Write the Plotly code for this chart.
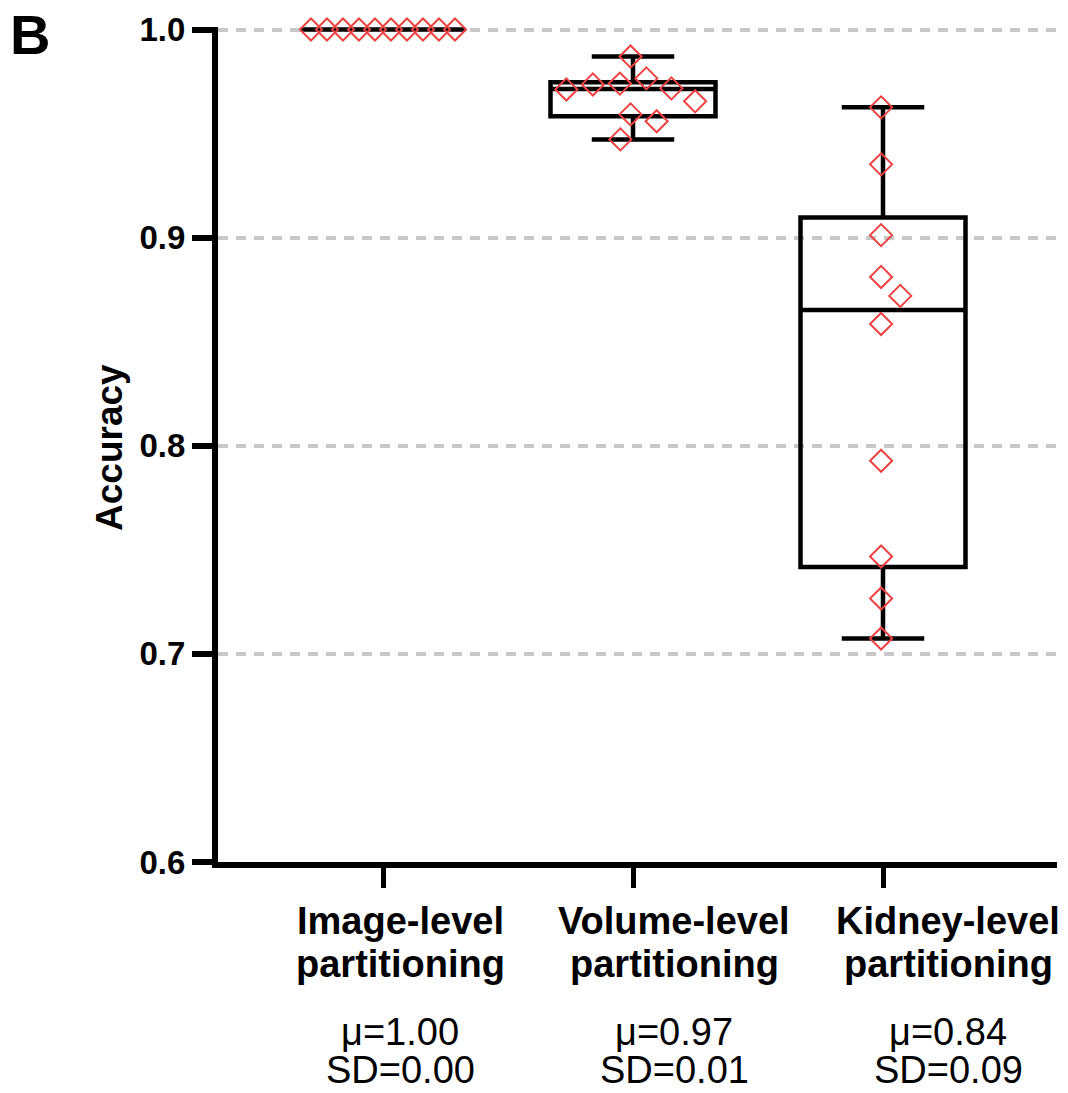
import math
import numpy as np
import plotly.graph_objects as go

# ---------------- data ----------------
categories = ["Image-level", "Volume-level", "Kidney-level"]
label_line1 = ["Image-level", "Volume-level", "Kidney-level"]
label_line2 = ["partitioning", "partitioning", "partitioning"]
mean_labels = ["μ=1.00", "μ=0.97", "μ=0.84"]
sd_labels = ["SD=0.00", "SD=0.01", "SD=0.09"]

image_level = [1.0, 1.0, 1.0, 1.0, 1.0, 1.0, 1.0, 1.0, 1.0, 1.0]
volume_level = [0.987, 0.9765, 0.9655, 0.9712, 0.9717, 0.9736, 0.974, 0.9559, 0.9592, 0.9472]
kidney_level = [0.9626, 0.9352, 0.9012, 0.8811, 0.872, 0.8585, 0.7928, 0.7468, 0.7266, 0.7074]

y_ticks = [0.6, 0.7, 0.8, 0.9, 1.0]
y_tick_labels = ["0.6", "0.7", "0.8", "0.9", "1.0"]

groups = [image_level, volume_level, kidney_level]

# ---------------- layout constants ----------------
W, H = 1068, 1093
M_L, M_R, M_B = 218, 11, 231
Y_MIN, Y_TOP = 0.6, 1.0012
PX_PER_Y = 2085.0
M_T = int(round(28 - (Y_TOP - 1.0) * PX_PER_Y))
X_RANGE = [-0.66, 2.696]
PX_PER_X = (W - M_L - M_R) / (X_RANGE[1] - X_RANGE[0])
PLOT_H = H - M_T - M_B
PLOT_BOTTOM = H - M_B
LABEL_CENTERS_PX = (400, 674, 948)   # text block centres below the axis

FONT = "Liberation Sans, Arial, sans-serif"
RED = "rgb(236,66,66)"


def swarm_offsets(values, diameter=27.0, max_half=72.0):
    """Simple beeswarm layout in pixel space, returned in x data units."""
    n = len(values)
    order = sorted(range(n), key=lambda i: -values[i])
    placed = []
    xs = [0.0] * n
    for i in order:
        y = values[i] * PX_PER_Y
        cands = [0.0]
        for px, py in placed:
            dy = abs(py - y)
            if dy < diameter:
                dx = math.sqrt(diameter ** 2 - dy ** 2)
                cands += [px + dx, px - dx]
        cands.sort(key=lambda c: (round(abs(c), 6), -c))
        chosen = cands[-1]
        for c in cands:
            if all((c - px) ** 2 + (y - py) ** 2 >= diameter ** 2 - 1e-6 for px, py in placed):
                chosen = c
                break
        xs[i] = chosen
        placed.append((chosen, y))
    shift = sum(xs) / n
    xs = [x - shift for x in xs]
    ext = max(abs(x) for x in xs)
    if ext > max_half:
        xs = [x * max_half / ext for x in xs]
    return [x / PX_PER_X for x in xs]


# box statistics (n+1 percentile method)
q1 = [float(np.percentile(g, 25, method="weibull")) for g in groups]
med = [float(np.median(g)) for g in groups]
q3 = [float(np.percentile(g, 75, method="weibull")) for g in groups]
lo = [float(min(g)) for g in groups]
hi = [float(max(g)) for g in groups]

fig = go.Figure()
fig.add_trace(go.Box(
    x=[0, 1, 2], q1=q1, median=med, q3=q3, lowerfence=lo, upperfence=hi,
    width=0.66, whiskerwidth=0.5,
    line=dict(color="black", width=4.5),
    fillcolor="rgba(0,0,0,0)",
    boxpoints=False, hoverinfo="skip",
))

for gi, g in enumerate(groups):
    offs = swarm_offsets(g)
    fig.add_trace(go.Scatter(
        x=[gi + o for o in offs], y=g, mode="markers",
        marker=dict(symbol="diamond-open", size=17, color=RED,
                    line=dict(width=2, color=RED)),
        cliponaxis=False, hoverinfo="skip",
    ))


def paper_y(py):
    return (PLOT_BOTTOM - py) / PLOT_H


def paper_x(px):
    return (px - M_L) / (W - M_L - M_R)


ann = []
for i in range(len(categories)):
    cx = paper_x(LABEL_CENTERS_PX[i])
    rows = [("<b>%s</b>" % label_line1[i], 921),
            ("<b>%s</b>" % label_line2[i], 964),
            (mean_labels[i], 1032),
            (sd_labels[i], 1070)]
    for txt, py in rows:
        ann.append(dict(x=cx, xref="paper", y=paper_y(py), yref="paper", text=txt,
                        showarrow=False, xanchor="center", yanchor="middle",
                        font=dict(family=FONT, size=38, color="black")))

ann.append(dict(x=paper_x(110), xref="paper", y=paper_y(446), yref="paper", text="<b>Accuracy</b>",
                textangle=-90, showarrow=False, xanchor="center", yanchor="middle",
                font=dict(family=FONT, size=37, color="black")))
ann.append(dict(x=paper_x(30), xref="paper", y=paper_y(33), yref="paper", text="<b>B</b>",
                showarrow=False, xanchor="center", yanchor="middle",
                font=dict(family=FONT, size=56, color="black")))

fig.update_layout(
    width=W, height=H,
    margin=dict(l=M_L, r=M_R, t=M_T, b=M_B, pad=0),
    plot_bgcolor="white", paper_bgcolor="white",
    showlegend=False,
    annotations=ann,
    xaxis=dict(range=X_RANGE, tickvals=[0, 1, 2], showticklabels=False,
               ticks="outside", ticklen=20, tickwidth=5, tickcolor="black",
               showline=True, linewidth=6, linecolor="black",
               showgrid=False, zeroline=False),
    yaxis=dict(range=[Y_MIN, Y_TOP], tickvals=y_ticks, ticktext=y_tick_labels,
               ticks="outside", ticklen=20, tickwidth=6, tickcolor="black",
               showline=True, linewidth=6, linecolor="black",
               showgrid=True, gridcolor="#c8c8c8", gridwidth=3.5, griddash="10px,8px",
               zeroline=False,
               tickfont=dict(family=FONT, size=33, color="black", weight="bold")),
)

fig.write_html("out.html")
